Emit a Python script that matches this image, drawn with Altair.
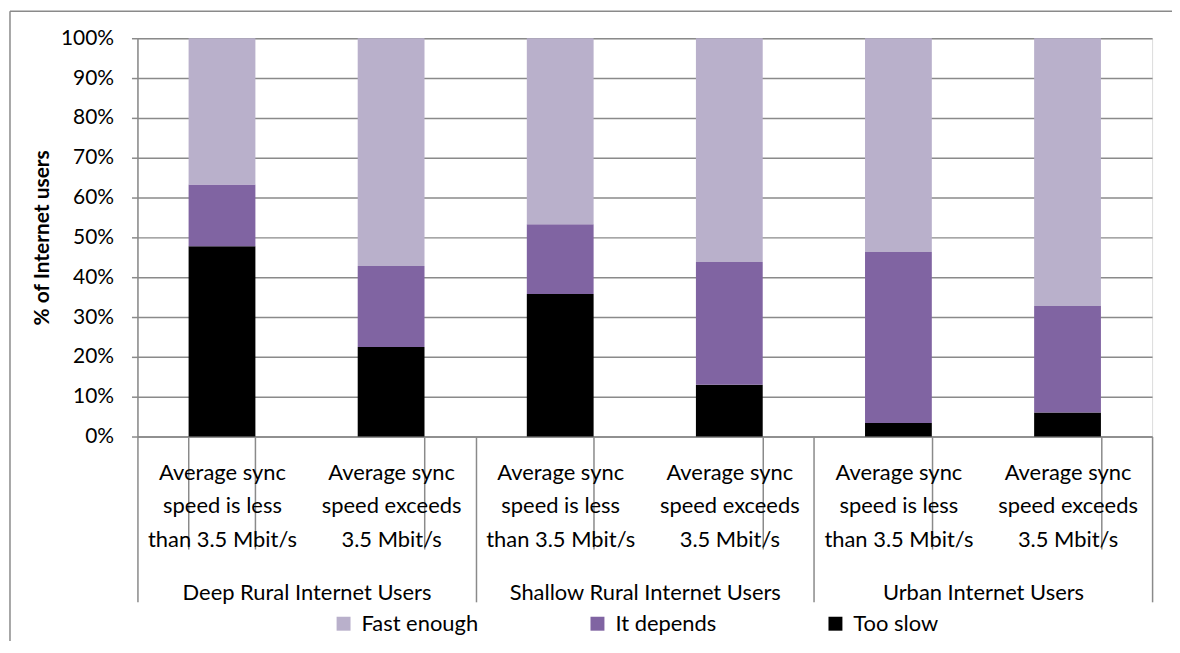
import altair as alt
import pandas as pd

groups = ["Deep Rural Internet Users", "Shallow Rural Internet Users", "Urban Internet Users"]
speed_labels = ["Average sync|speed is less|than 3.5 Mbit/s", "Average sync|speed exceeds|3.5 Mbit/s"]
series = ["Fast enough", "It depends", "Too slow"]
colors = ["#B9B0CB", "#8064A2", "#000000"]
too_slow = [47.8, 22.5, 35.8, 13.0, 3.4, 6.0]
it_depends = [15.5, 20.3, 17.5, 30.8, 42.9, 26.8]
fast_enough = [36.7, 57.2, 46.7, 56.2, 53.7, 67.2]
y_ticks = [0, 10, 20, 30, 40, 50, 60, 70, 80, 90, 100]

FONT = "Lato"
GRAY = "#8a8a8a"

bars = [f"{g}|{s}" for g in groups for s in speed_labels]
rows = []
for i, b in enumerate(bars):
    for name, vals, order in [("Too slow", too_slow, 0), ("It depends", it_depends, 1), ("Fast enough", fast_enough, 2)]:
        rows.append({"bar": b, "series": name, "value": vals[i], "order": order})
df = pd.DataFrame(rows)
gdf = pd.DataFrame({"group": groups})

one = pd.DataFrame({"k": [0]})
frame_left = alt.Chart(one).mark_rule(stroke=GRAY, strokeWidth=1.5).encode(
    x=alt.value(-128), y=alt.value(-27), y2=alt.value(900))
frame_top = alt.Chart(one).mark_rule(stroke=GRAY, strokeWidth=1.5).encode(
    x=alt.value(-128), x2=alt.value(1400), y=alt.value(-27))

bar_chart = alt.Chart(df).mark_bar().encode(
    x=alt.X("bar:N", sort=bars,
            scale=alt.Scale(paddingInner=0.605, paddingOuter=0.3025),
            axis=alt.Axis(title=None, labelExpr="slice(split(datum.label, '|'), 1)",
                          labelAngle=0, labelOverlap=False, labelLimit=0,
                          ticks=True, tickBand="extent", tickSize=113, tickColor=GRAY, tickWidth=1.5,
                          domainColor=GRAY, domainWidth=1.5, labelPadding=-87,
                          labelFont=FONT, labelFontSize=22, labelColor="black",
                          labelLineHeight=33.5, labelBaseline="top", grid=False)),
    y=alt.Y("value:Q", stack="zero", scale=alt.Scale(domain=[0, 100], nice=False),
            axis=alt.Axis(values=y_ticks, labelExpr="datum.value + '%'",
                          title="% of Internet users", titleFont=FONT, titleFontSize=21,
                          titleFontWeight="bold", titleColor="black", titlePadding=8,
                          labelFont=FONT, labelFontSize=21, labelColor="black", labelPadding=18,
                          tickSize=6, tickColor=GRAY, tickWidth=1.5,
                          domainColor=GRAY, domainWidth=1.5,
                          grid=True, gridColor=GRAY, gridWidth=1.5)),
    color=alt.Color("series:N", scale=alt.Scale(domain=series, range=colors),
                    legend=alt.Legend(title=None, orient="none", legendX=196, legendY=577,
                                      direction="horizontal", symbolType="square", symbolSize=196,
                                      symbolStrokeWidth=0, symbolOpacity=1,
                                      labelFont=FONT, labelFontSize=22, labelColor="black",
                                      labelOffset=7, columnPadding=108)),
    order=alt.Order("order:Q"),
)

group_chart = alt.Chart(gdf).mark_point(opacity=0).encode(
    x=alt.X("group:N", sort=groups,
            scale=alt.Scale(paddingInner=0, paddingOuter=0),
            axis=alt.Axis(title=None, orient="bottom", domain=False, labelAngle=0,
                          labelOverlap=False, labelLimit=0,
                          ticks=True, tickBand="extent", tickSize=166, tickColor=GRAY, tickWidth=1.5,
                          labelPadding=-19, labelFont=FONT, labelFontSize=22, labelColor="black",
                          labelBaseline="top", grid=False)),
)

chart = alt.layer(frame_left, frame_top, bar_chart, group_chart).resolve_scale(x="independent").resolve_axis(x="independent").properties(
    width=1019, height=400,
    autosize=alt.AutoSizeParams(type="none"),
    padding={"left": 130, "top": 29, "right": 20, "bottom": 204},
).configure_view(stroke=None).configure(background="white")

chart.save("out.html", embed_options={"renderer": "svg", "actions": False})
